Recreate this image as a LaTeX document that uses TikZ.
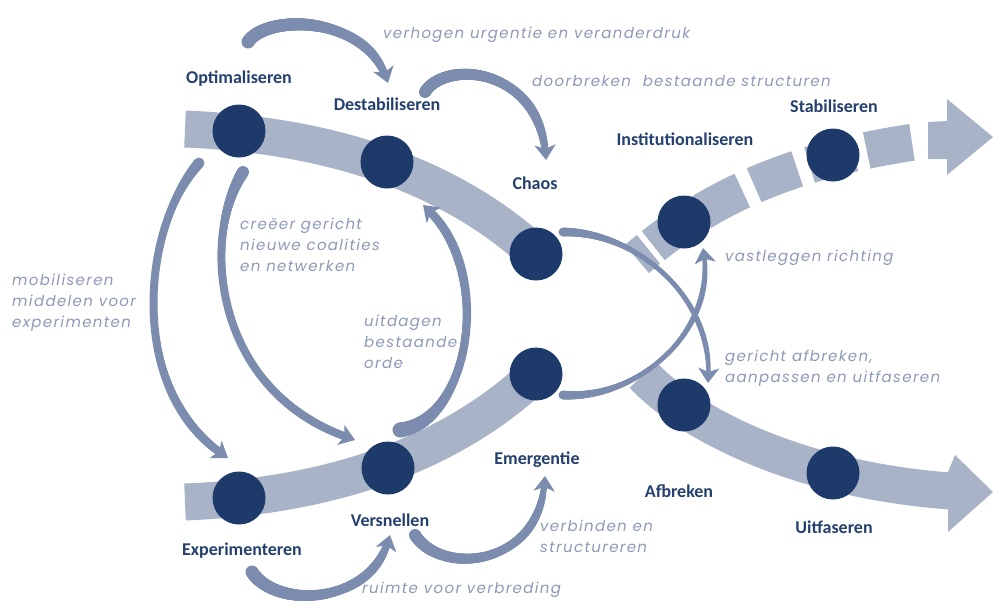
\documentclass[tikz,border=0pt]{standalone}
\usepackage{fontspec}
\setmainfont{Carlito}
\newfontfamily\notefont{Poppins}[LetterSpace=9]
\usetikzlibrary{arrows.meta,decorations.markings}
\definecolor{navy}{HTML}{1D3A6B}
\definecolor{bandc}{HTML}{A8B3C8}
\definecolor{arrc}{HTML}{7B8CAF}
\definecolor{labc}{HTML}{24406E}
\definecolor{notec}{HTML}{8D99B6}
\tikzset{
  stage/.style={circle,fill=navy,minimum size=53pt,inner sep=0pt},
  lbl/.style={font=\fontsize{18}{21}\selectfont\bfseries,text=labc,inner sep=0pt},
  nt/.style={font=\notefont\itshape\fontsize{15}{21}\selectfont,text=notec,inner sep=0pt,align=left,anchor=west},
  bandline/.style={draw=bandc,line width=37pt},
  flow/.style={draw=arrc,-{Stealth[length=15pt,width=21pt,inset=4pt]}},
  taper/.style n args={3}{line width=#3pt,
    postaction={decorate,decoration={markings,
      mark=between positions 0 and -12pt step 0.8pt with {
        \pgfmathsetmacro\tpt{\pgfkeysvalueof{/pgf/decoration/mark info/distance from start}/\pgfdecoratedpathlength}
        \pgfmathsetmacro\tpr{0.5*(#1*(1-\tpt)*(1-2*\tpt)+4*#2*\tpt*(1-\tpt)+#3*\tpt*(2*\tpt-1))}
        \fill[arrc] (0,0) circle[radius=\tpr];
      }}}}
}
\begin{document}
\begin{tikzpicture}[x=1pt,y=-1pt]
\useasboundingbox (0,0) rectangle (993,600);
% stage centres
\coordinate (copt) at (239,131);
\coordinate (cdes) at (387,162);
\coordinate (ccha) at (536,254);
\coordinate (ceme) at (536,374);
\coordinate (cver) at (388,468);
\coordinate (cexp) at (239,498);
\coordinate (cins) at (684,222);
\coordinate (csta) at (833,155);
\coordinate (cafb) at (684,405);
\coordinate (cuit) at (833,473);
% bands
\coordinate (ustart) at (185,129);
\coordinate (lstart) at (185,502);
\coordinate (rstart) at (643,375);
\coordinate (rend) at (950,491);
\coordinate (dstart) at (637,259);
\coordinate (dend) at (928,140);
\draw[bandline] (ustart) .. controls (330,135) and (450,175) .. (ccha);
\draw[bandline] (lstart) .. controls (330,496) and (450,455) .. (ceme);
\draw[bandline] (rstart) .. controls (690,425) and (800,480) .. (rend);
\fill[bandc] (948,472) -- (955,455) -- (993,492) -- (948,532) -- (948,510) -- cycle;
\draw[bandline,dash pattern=on 15pt off 6pt on 46pt off 13pt on 46pt off 13pt on 46pt off 13pt on 46pt off 13pt on 46pt off 60pt]
  (dstart) .. controls (700,205) and (780,160) .. (dend);
\fill[bandc] (928,122) -- (947,121) -- (947,99) -- (993,137) -- (947,175) -- (947,159) -- (928,159) -- cycle;
% stages
\node[stage] (opt) at (copt) {};
\node[stage] (des) at (cdes) {};
\node[stage] (cha) at (ccha) {};
\node[stage] (eme) at (ceme) {};
\node[stage] (ver) at (cver) {};
\node[stage] (exp) at (cexp) {};
\node[stage] (ins) at (cins) {};
\node[stage] (sta) at (csta) {};
\node[stage] (afb) at (cafb) {};
\node[stage] (uit) at (cuit) {};
% labels
\node[lbl] (lopt) at (239,79) {Optimaliseren};
\node[lbl] (ldes) at (387,104) {Destabiliseren};
\node[lbl] (lcha) at (535,183) {Chaos};
\node[lbl] (lins) at (685,139) {Institutionaliseren};
\node[lbl] (lsta) at (834,106) {Stabiliseren};
\node[lbl] (leme) at (537,460) {Emergentie};
\node[lbl] (lafb) at (679,491) {Afbreken};
\node[lbl] (luit) at (834,527) {Uitfaseren};
\node[lbl] (lver) at (390,520) {Versnellen};
\node[lbl] (lexp) at (242,551) {Experimenteren};
% flow arrows
\coordinate (a1s) at (248,42);  \coordinate (a1e) at (388,83);
\coordinate (a2s) at (425,92);  \coordinate (a2e) at (546,160);
\coordinate (a3s) at (199,163); \coordinate (a3e) at (228,458);
\coordinate (a4s) at (243,172); \coordinate (a4e) at (355,440);
\coordinate (a5s) at (400,430); \coordinate (a5e) at (423,205);
\coordinate (a6s) at (252,572); \coordinate (a6e) at (390,535);
\coordinate (a7s) at (415,535); \coordinate (a7e) at (545,476);
\coordinate (a8s) at (563,232); \coordinate (a8e) at (708,383);
\coordinate (a9s) at (563,395); \coordinate (a9e) at (703,248);
\draw[flow,taper={13}{11}{6}] (a1s) .. controls (265,15) and (365,12) .. (a1e);
\draw[flow,taper={12}{10}{6}] (a2s) .. controls (445,60) and (540,65) .. (a2e);
\draw[flow,taper={11}{4}{8}] (a3s) .. controls (140,230) and (130,390) .. (a3e);
\draw[flow,taper={12}{4}{8}] (a4s) .. controls (200,240) and (215,390) .. (a4e);
\draw[flow,taper={15}{6}{8}] (a5s) .. controls (472,420) and (492,270) .. (a5e);
\draw[flow,taper={13}{10}{6}] (a6s) .. controls (275,608) and (370,608) .. (a6e);
\draw[flow,taper={12}{9}{5}] (a7s) .. controls (440,575) and (540,570) .. (a7e);
\draw[flow,taper={9}{4}{4}] (a8s) .. controls (640,232) and (712,300) .. (a8e);
\draw[flow,taper={9}{4}{4}] (a9s) .. controls (640,400) and (715,330) .. (a9e);
% notes
\node[nt] (n1) at (383,35) {verhogen urgentie en veranderdruk};
\node[nt] (n2) at (532,81) {doorbreken\hspace{0.4em} bestaande structuren};
\node[nt] (n3) at (725,258) {vastleggen richting};
\node[nt] (n4) at (725,368) {gericht afbreken,\\aanpassen en uitfaseren};
\node[nt] (n5) at (540,536) {verbinden en\\structureren};
\node[nt] (n6) at (362,590) {ruimte voor verbreding};
\node[nt] (n7) at (240,245) {creëer gericht\\nieuwe coalities\\en netwerken};
\node[nt] (n8) at (364,342) {uitdagen\\bestaande\\orde};
\node[nt] (n9) at (12,303) {mobiliseren\\middelen voor\\experimenten};
\end{tikzpicture}
\end{document}
